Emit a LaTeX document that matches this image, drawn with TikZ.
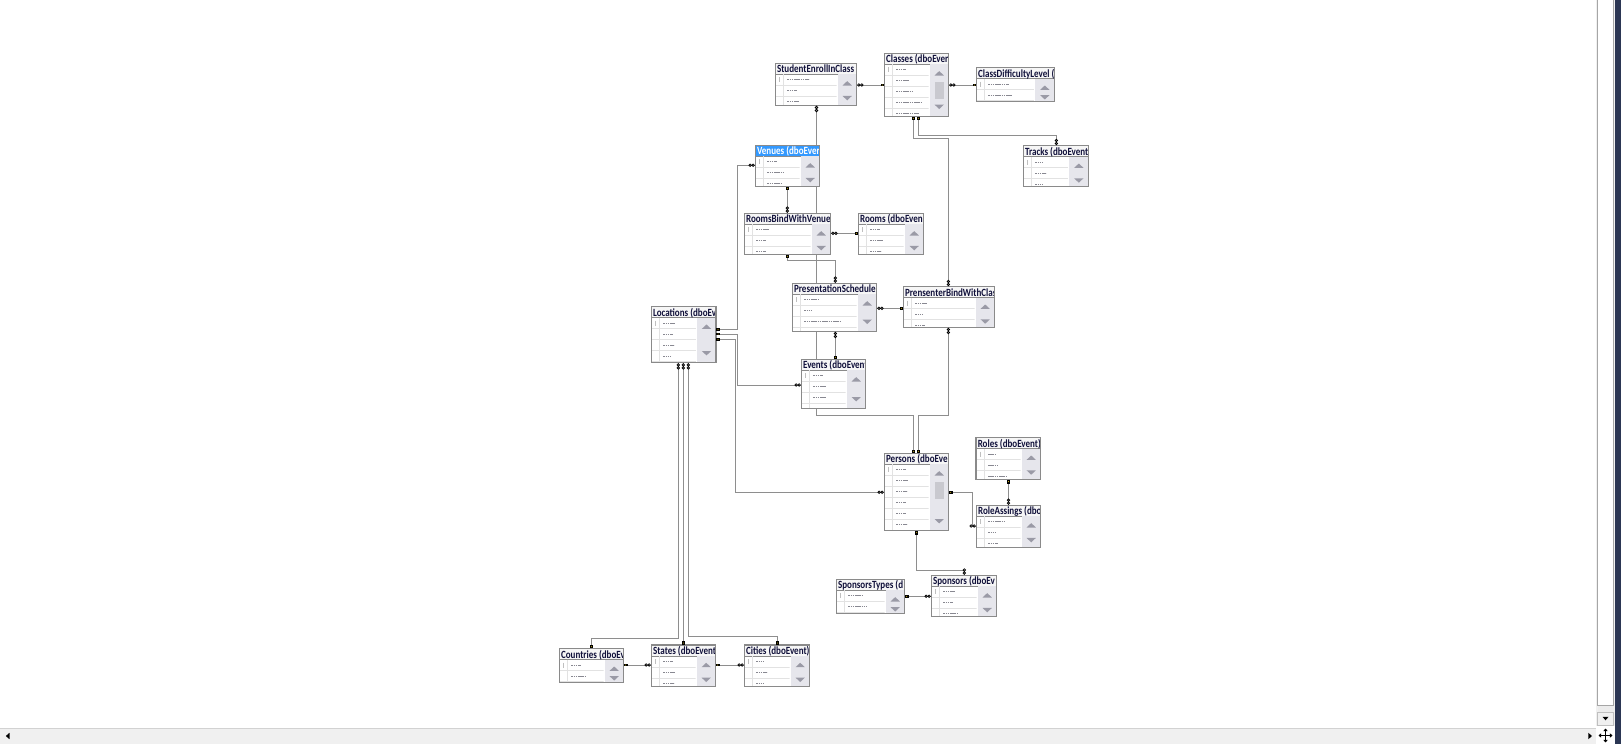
\documentclass[tikz,border=0pt]{standalone}
\usepackage{fontspec}
\newfontfamily\hdrfont{Carlito}
\usetikzlibrary{backgrounds,arrows.meta}

\definecolor{boxgray}{HTML}{8A8A8A}
\definecolor{linegray}{HTML}{8E8E8E}
\definecolor{hdrbg}{HTML}{F6F6F6}
\definecolor{selbg}{HTML}{3399FF}
\definecolor{scrbg}{HTML}{E6E6EC}
\definecolor{arrgray}{HTML}{9A9AA6}
\definecolor{thumbgray}{HTML}{C9C9CF}
\definecolor{rowgray}{HTML}{E2E2E2}
\definecolor{titlecol}{HTML}{10103A}
\definecolor{fieldcol}{HTML}{3A3A48}
\definecolor{keyyellow}{HTML}{F2D21B}
\definecolor{chrome}{HTML}{F0F0F0}
\definecolor{navy}{HTML}{2B3653}

\tikzset{
  tblbox/.style={rectangle, fill=white, draw=none, inner sep=0pt, outer sep=0pt},
  boxedge/.style={draw=boxgray, line width=1.2pt},
  conn/.style={draw=linegray, line width=1pt},
  rowline/.style={draw=rowgray, line width=0.7pt},
  fieldtxt/.style={draw=fieldcol, line width=1.0pt, dash pattern=on 1.6pt off 0.6pt, opacity=0.6},
  ttl/.style={font=\hdrfont\bfseries\fontsize{11}{12}\selectfont, inner sep=0pt, xscale=0.82},
  infs/.style={draw=black, line width=0.7pt},
  keys/.style={fill=black},
}

% one table of the diagram: name, x1, y1, x2, y2, title, field widths, variant (n/s/t)
\newcommand\dbtable[8]{%
  \node[tblbox, minimum width={(#4-#2)*1pt}, minimum height={(#5-#3)*1pt}] (#1) at ({(#2+#4)/2},{(#3+#5)/2}) {};
  \if s#8\fill[selbg] (#2,#3) rectangle (#4,{#3+11});\def\ttlcol{white}%
  \else\fill[hdrbg] (#2,#3) rectangle (#4,{#3+11});\def\ttlcol{titlecol}\fi
  \draw[draw=boxgray, line width=0.6pt] (#2,{#3+11}) -- (#4,{#3+11});
  \fill[scrbg] ({#4-19},{#3+11}) rectangle (#4,#5);
  \begin{scope}
    \clip (#2,{#3+11}) rectangle ({#4-20},#5);
    \draw[rowline] ({#2+8},{#3+11}) -- ({#2+8},#5);
    \foreach \w [count=\i from 0] in {#7} {%
      \draw[rowline] ({#2+1},{#3+22+11*\i}) -- ({#4-20},{#3+22+11*\i});
      \draw[fieldtxt] ({#2+12},{#3+16.5+11*\i}) -- ++(\w,0);
    }
    \draw[draw=gray!50, line width=0.6pt] ({#2+4.3},{#3+14}) -- ({#2+4.3},{#3+19});
  \end{scope}
  \begin{scope}
    \clip (#2,#3) rectangle (#4,#5);
    \fill[arrgray] ({#4-14.2},{#3+22.2}) -- ({#4-4.8},{#3+22.2}) -- ({#4-9.5},{#3+17.8}) -- cycle;
    \pgfmathsetmacro\dd{(#5-#3)<36 ? 4.4 : ((#5-#3)<45 ? (#5-#3)-34.8 : 9.5)}
    \fill[arrgray] ({#4-14.2},{#5-\dd-2.2}) -- ({#4-4.8},{#5-\dd-2.2}) -- ({#4-9.5},{#5-\dd+2.2}) -- cycle;
    \if t#8\fill[thumbgray] ({#4-14},{#3+28.4}) rectangle ({#4-5},{#3+45.5});\fi
  \end{scope}
  \begin{scope}
    \clip (#2,#3) rectangle (#4,{#3+11});
    \node[ttl, anchor=base west, text=\ttlcol] (#1t) at ({#2+1.6},{#3+9.3}) {#6};
  \end{scope}
  \draw[boxedge] (#1.north west) rectangle (#1.south east);
}

% many-side mark: x, y, outward direction dx, dy
\newcommand\infmark[4]{%
  \draw[infs] ({#1+2.2*(#3)},{#2+2.2*(#4)}) circle[radius=1.3pt]
              ({#1+5.2*(#3)},{#2+5.2*(#4)}) circle[radius=1.3pt];}
% key mark: x, y, outward direction dx, dy
\newcommand\keymark[4]{%
  \fill[keys] ({#1+0.3*(#3)-1.3*(#4)},{#2+0.3*(#4)-1.3*(#3)}) rectangle ({#1+3.8*(#3)+1.3*(#4)},{#2+3.8*(#4)+1.3*(#3)});
  \fill[keyyellow] ({#1+2.0*(#3)},{#2+2.0*(#4)}) circle[radius=0.5pt];}

\begin{document}
\begin{tikzpicture}[x=1pt,y=-1pt]
\useasboundingbox (0,0) rectangle (1621,744);

% tables
\dbtable{seic}{775.3}{63.3}{856.7}{105.3}{StudentEnrollInClass}{22,9,12}{n}
\dbtable{cls}{884.3}{53.3}{948.7}{116.3}{Classes (dboEver}{10,13,16,25,23}{t}
\dbtable{cdl}{976.3}{67.7}{1054.3}{101.7}{ClassDifficultyLevel (}{20,24}{n}
\dbtable{ven}{755.3}{145.3}{819.7}{186.3}{Venues (dboEver}{10,16,14}{s}
\dbtable{trk}{1023.3}{145.7}{1088.3}{186.7}{Tracks (dboEvent}{8,11,8}{n}
\dbtable{rbv}{744.3}{213.3}{830.7}{254.3}{RoomsBindWithVenue}{13,10,10}{n}
\dbtable{rms}{858.3}{213.3}{923.7}{254.3}{Rooms (dboEven}{9,13,11}{n}
\dbtable{ps}{792.3}{283.3}{876.7}{331.3}{PresentationSchedule}{14,8,36,10}{n}
\dbtable{pbc}{903.3}{286.7}{994.7}{327.3}{PrensenterBindWithClas}{12,8,10}{n}
\dbtable{loc}{651.3}{306.7}{716}{362.7}{Locations (dboEv}{12,10,11,8}{n}
\dbtable{evt}{801.3}{359.3}{865.7}{408.7}{Events (dboEvent}{10,13,13,10}{n}
\dbtable{per}{884.3}{453.3}{948.7}{530.7}{Persons (dboEve}{10,12,11,10,9,11}{t}
\dbtable{rol}{976}{437.7}{1040.7}{479.7}{Roles (dboEvent)}{8,10,18}{n}
\dbtable{ras}{976.3}{505.3}{1040.7}{547.3}{RoleAssings (dbo}{16,8,10}{n}
\dbtable{spt}{836.3}{579.3}{904.7}{613.7}{SponsorsTypes (d}{15,19}{n}
\dbtable{spn}{931.3}{575.3}{996.7}{616.7}{Sponsors (dboEv}{12,10,14}{n}
\dbtable{cty}{559.3}{648.7}{623.7}{682.7}{Countries (dboEv}{10,14}{n}
\dbtable{sta}{651.3}{645}{715.7}{686.7}{States (dboEvent}{9,12,11}{n}
\dbtable{cit}{744.3}{645}{809.7}{686.7}{Cities (dboEvent)}{7,11,8}{n}

% relationships, behind the tables
\begin{pgfonlayer}{background}
\fill[white] (0,0) rectangle (1621,744);
\draw[conn] (seic.east |- 0,85) -- (cls.west |- 0,85);
\draw[conn] (cls.east |- 0,85) -- (cdl.west |- 0,85);
\draw[conn] (seic.south -| 816.5,0) -- (816.5,415) -- (913.7,415) -- (per.north -| 913.7,0);
\draw[conn] (cls.south -| 918.3,0) -- (918.3,135.3) -- (1056.3,135.3) -- (trk.north -| 1056.3,0);
\draw[conn] (cls.south -| 913.3,0) -- (913.3,138.3) -- (948.3,138.3) -- (pbc.north -| 948.3,0);
\draw[conn] (ven.west |- 0,165.3) -- (737.3,165.3) -- (737.3,329.3) -- (loc.east |- 0,329.3);
\draw[conn] (evt.west |- 0,385) -- (737.3,385) -- (737.3,334) -- (loc.east |- 0,334);
\draw[conn] (per.west |- 0,492.3) -- (735.7,492.3) -- (735.7,339.3) -- (loc.east |- 0,339.3);
\draw[conn] (ven.south -| 787.3,0) -- (rbv.north -| 787.3,0);
\draw[conn] (rbv.east |- 0,233.3) -- (rms.west |- 0,233.3);
\draw[conn] (rbv.south -| 787.3,0) -- (787.3,260.3) -- (835.3,260.3) -- (ps.north -| 835.3,0);
\draw[conn] (ps.east |- 0,308.3) -- (pbc.west |- 0,308.3);
\draw[conn] (ps.south -| 835.3,0) -- (evt.north -| 835.3,0);
\draw[conn] (pbc.south -| 948.3,0) -- (948.3,415) -- (918.3,415) -- (per.north -| 918.3,0);
\draw[conn] (per.east |- 0,492.3) -- (972.7,492.3) -- (972.7,526) -- (ras.west |- 0,526);
\draw[conn] (rol.south -| 1008.5,0) -- (ras.north -| 1008.5,0);
\draw[conn] (per.south -| 916.7,0) -- (916.7,570.3) -- (964.3,570.3) -- (spn.north -| 964.3,0);
\draw[conn] (spt.east |- 0,596.3) -- (spn.west |- 0,596.3);
\draw[conn] (loc.south -| 678.3,0) -- (678.3,638.3) -- (591.3,638.3) -- (cty.north -| 591.3,0);
\draw[conn] (loc.south -| 683.3,0) -- (sta.north -| 683.3,0);
\draw[conn] (loc.south -| 688.3,0) -- (688.3,636) -- (777.7,636) -- (cit.north -| 777.7,0);
\draw[conn] (cty.east |- 0,665) -- (sta.west |- 0,665);
\draw[conn] (sta.east |- 0,665) -- (cit.west |- 0,665);
\end{pgfonlayer}

% relationship end marks
\infmark{856.7}{85}{1}{0}      \keymark{884.3}{85}{-1}{0}
\infmark{948.7}{85}{1}{0}      \keymark{976.3}{85}{-1}{0}
\infmark{816.5}{105.3}{0}{1}   \keymark{913.7}{453.3}{0}{-1}
\keymark{918.3}{116.3}{0}{1}   \infmark{1056.3}{145.7}{0}{-1}
\keymark{913.3}{116.3}{0}{1}   \infmark{948.3}{286.7}{0}{-1}
\infmark{755.3}{165.3}{-1}{0}  \keymark{716}{329.3}{1}{0}
\infmark{801.3}{385}{-1}{0}    \keymark{716}{334}{1}{0}
\infmark{884.3}{492.3}{-1}{0}  \keymark{716}{339.3}{1}{0}
\keymark{787.3}{186.3}{0}{1}   \infmark{787.3}{213.3}{0}{-1}
\infmark{830.7}{233.3}{1}{0}   \keymark{858.3}{233.3}{-1}{0}
\keymark{787.3}{254.3}{0}{1}   \infmark{835.3}{283.3}{0}{-1}
\infmark{876.7}{308.3}{1}{0}   \keymark{903.3}{308.3}{-1}{0}
\infmark{835.3}{331.3}{0}{1}   \keymark{835.3}{359.3}{0}{-1}
\infmark{948.3}{327.3}{0}{1}   \keymark{918.3}{453.3}{0}{-1}
\keymark{948.7}{492.3}{1}{0}   \infmark{976.3}{526}{-1}{0}
\keymark{1008.5}{479.7}{0}{1}  \infmark{1008.5}{505.3}{0}{-1}
\keymark{916.7}{530.7}{0}{1}   \infmark{964.3}{575.3}{0}{-1}
\keymark{904.7}{596.3}{1}{0}   \infmark{931.3}{596.3}{-1}{0}
\infmark{678.3}{362.7}{0}{1}   \keymark{591.3}{648.7}{0}{-1}
\infmark{683.3}{362.7}{0}{1}   \keymark{683.3}{645}{0}{-1}
\infmark{688.3}{362.7}{0}{1}   \keymark{777.7}{645}{0}{-1}
\keymark{623.7}{665}{1}{0}     \infmark{651.3}{665}{-1}{0}
\keymark{715.7}{665}{1}{0}     \infmark{744.3}{665}{-1}{0}

% window scroll bars
\fill[chrome] (1596,0) rectangle (1615,727);
\filldraw[fill=white, draw=gray!70, line width=0.8pt] (1597.5,-2) rectangle (1613.5,705);
\fill[gray!15] (1597.5,706) rectangle (1613.5,712);
\filldraw[fill=chrome, draw=gray!50, line width=0.6pt] (1597.5,712) rectangle (1613.5,725);
\fill[black] (1602.5,716.8) -- (1608.5,716.8) -- (1605.5,720.3) -- cycle;
\fill[navy] (1615,0) rectangle (1621,744);
\fill[chrome] (0,728) rectangle (1596,744);
\draw[gray!35, line width=0.6pt] (0,728) -- (1596,728);
\fill[black] (9.5,732.8) -- (9.5,739.2) -- (5.8,736) -- cycle;
\fill[black] (1588.3,732.8) -- (1588.3,739.2) -- (1592,736) -- cycle;
\fill[white] (1596,726) rectangle (1615,744);
\draw[black, line width=0.9pt, {Triangle[length=2.6pt,width=4.2pt]}-{Triangle[length=2.6pt,width=4.2pt]}] (1598.5,735.5) -- (1612.5,735.5);
\draw[black, line width=0.9pt, {Triangle[length=2.6pt,width=4.2pt]}-{Triangle[length=2.6pt,width=4.2pt]}] (1605.5,728.5) -- (1605.5,742.5);
\end{tikzpicture}
\end{document}
